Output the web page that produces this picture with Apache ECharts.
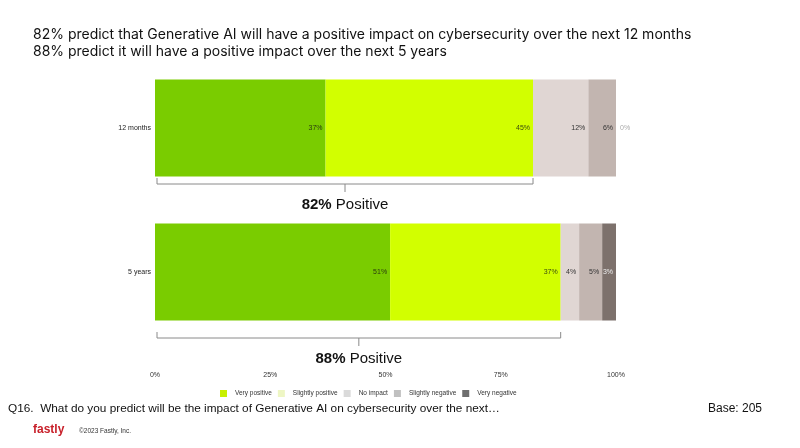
<!DOCTYPE html>
<html>
<head>
<meta charset="utf-8">
<script src="https://cdn.jsdelivr.net/npm/echarts@6/dist/echarts.min.js"></script>
<style>html,body{margin:0;padding:0;background:#fff}#c{width:800px;height:448px}</style>
</head>
<body>
<div id="c"></div>
<script>
const categories = ['12 months', '5 years'];
const seriesNames = ['Very positive', 'Slightly positive', 'No impact', 'Slightly negative', 'Very negative'];
const veryPositive = [37, 51];
const slightlyPositive = [45, 37];
const noImpact = [12, 4];
const slightlyNegative = [6, 5];
const veryNegative = [0, 3];
const xTicks = [0, 25, 50, 75, 100];
const titleLines = ['82% predict that Generative AI will have a positive impact on cybersecurity over the next 12 months',
                    '88% predict it will have a positive impact over the next 5 years'];
const question = 'Q16.  What do you predict will be the impact of Generative AI on cybersecurity over the next\u2026';
const baseText = 'Base: 205';

const FONT = '"Liberation Sans", Arial, Helvetica, sans-serif';
const TFONT = 'Inter, "Liberation Sans", Arial, sans-serif';
const barColors = ['#7acc00', '#d2ff00', '#e0d6d3', '#c2b5b0', '#7d716c'];
const legendColors = ['#c8f000', '#eef6c4', '#dadada', '#c0c0c0', '#6e6e6e'];
const labelColors = ['#2a3a10', '#3a4a10', '#333', '#333', '#eee'];
const allData = [veryPositive, slightlyPositive, noImpact, slightlyNegative, veryNegative];

const chart = echarts.init(document.getElementById('c'));

const series = seriesNames.map((name, i) => ({
  name: name,
  type: 'bar',
  stack: 'total',
  barWidth: 97,
  itemStyle: { color: barColors[i] },
  label: {
    show: true,
    position: 'insideRight',
    formatter: '{c}%',
    fontSize: 7,
    fontFamily: FONT,
    color: labelColors[i],
    distance: 3
  },
  data: allData[i].map(v => v === 0
    ? { value: v, label: { position: 'right', color: '#aaa', distance: 4 } }
    : v)
}));

const option = {
  animation: false,
  backgroundColor: '#fff',
  textStyle: { fontFamily: FONT },
  grid: { left: 155, right: 184, top: 56, bottom: 104 },
  xAxis: {
    type: 'value',
    min: xTicks[0],
    max: xTicks[xTicks.length - 1],
    interval: xTicks[1] - xTicks[0],
    axisLine: { show: false },
    axisTick: { show: false },
    splitLine: { show: false },
    axisLabel: { fontSize: 7, color: '#333', margin: 28, formatter: v => v + '%', fontFamily: FONT }
  },
  yAxis: {
    type: 'category',
    inverse: true,
    data: categories,
    axisLine: { show: false },
    axisTick: { show: false },
    axisLabel: { fontSize: 7, color: '#222', margin: 4, fontFamily: FONT }
  },
  legend: {
    data: seriesNames.map((n, i) => ({ name: n, itemStyle: { color: legendColors[i] } })),
    left: 215,
    top: 385,
    itemWidth: 7,
    itemHeight: 7,
    itemGap: 6,
    icon: 'rect',
    textStyle: { fontSize: 6.5, color: '#333', fontFamily: FONT, padding: [0, 0, 0, 3] }
  },
  series: series
};

chart.setOption(option);

// Brackets spanning the positive share, built from the data through the axes
const bracketDrop = [56, 66];
const graphics = [];
categories.forEach((cat, i) => {
  const pos = veryPositive[i] + slightlyPositive[i];
  const cy = chart.convertToPixel({ yAxisIndex: 0 }, cat);
  const x0 = chart.convertToPixel({ xAxisIndex: 0 }, 0) + 2;
  const x1 = chart.convertToPixel({ xAxisIndex: 0 }, pos);
  const y = cy + bracketDrop[i];
  const xm = (x0 + x1) / 2;
  graphics.push({
    type: 'polyline',
    shape: { points: [[x0, y - 6], [x0, y], [x1, y], [x1, y - 6]] },
    style: { stroke: '#8a8a8a', lineWidth: 1, fill: null }
  });
  graphics.push({
    type: 'line',
    shape: { x1: xm, y1: y, x2: xm, y2: y + 8 },
    style: { stroke: '#8a8a8a', lineWidth: 1 }
  });
  graphics.push({
    type: 'text',
    x: xm,
    y: y + 21,
    style: {
      text: '{b|' + pos + '%} Positive',
      rich: { b: { fontWeight: 'bold', fontSize: 15, fontFamily: FONT, fill: '#111' } },
      fontSize: 15,
      fontFamily: FONT,
      fill: '#111',
      align: 'center',
      verticalAlign: 'middle'
    }
  });
});

titleLines.forEach((t, k) => {
  graphics.push({
    type: 'text', left: 33, top: 28 + k * 17,
    style: { text: t, fontSize: 14, fontFamily: TFONT, fill: '#111' }
  });
});
graphics.push({
  type: 'text', left: 8, top: 403,
  style: { text: question, fontSize: 11.8, fontFamily: FONT, fill: '#111' }
});
graphics.push({
  type: 'text', left: 708, top: 403,
  style: { text: baseText, fontSize: 12, fontFamily: FONT, fill: '#111' }
});
graphics.push({
  type: 'text', left: 33, top: 424,
  style: { text: 'fastly', fontSize: 12, fontWeight: 'bold', fontFamily: FONT, fill: '#c8202a' }
});
graphics.push({
  type: 'text', left: 79, top: 428,
  style: { text: '\u00a92023 Fastly, Inc.', fontSize: 6.5, fontFamily: FONT, fill: '#333' }
});

chart.setOption({ graphic: graphics });
</script>
</body>
</html>
